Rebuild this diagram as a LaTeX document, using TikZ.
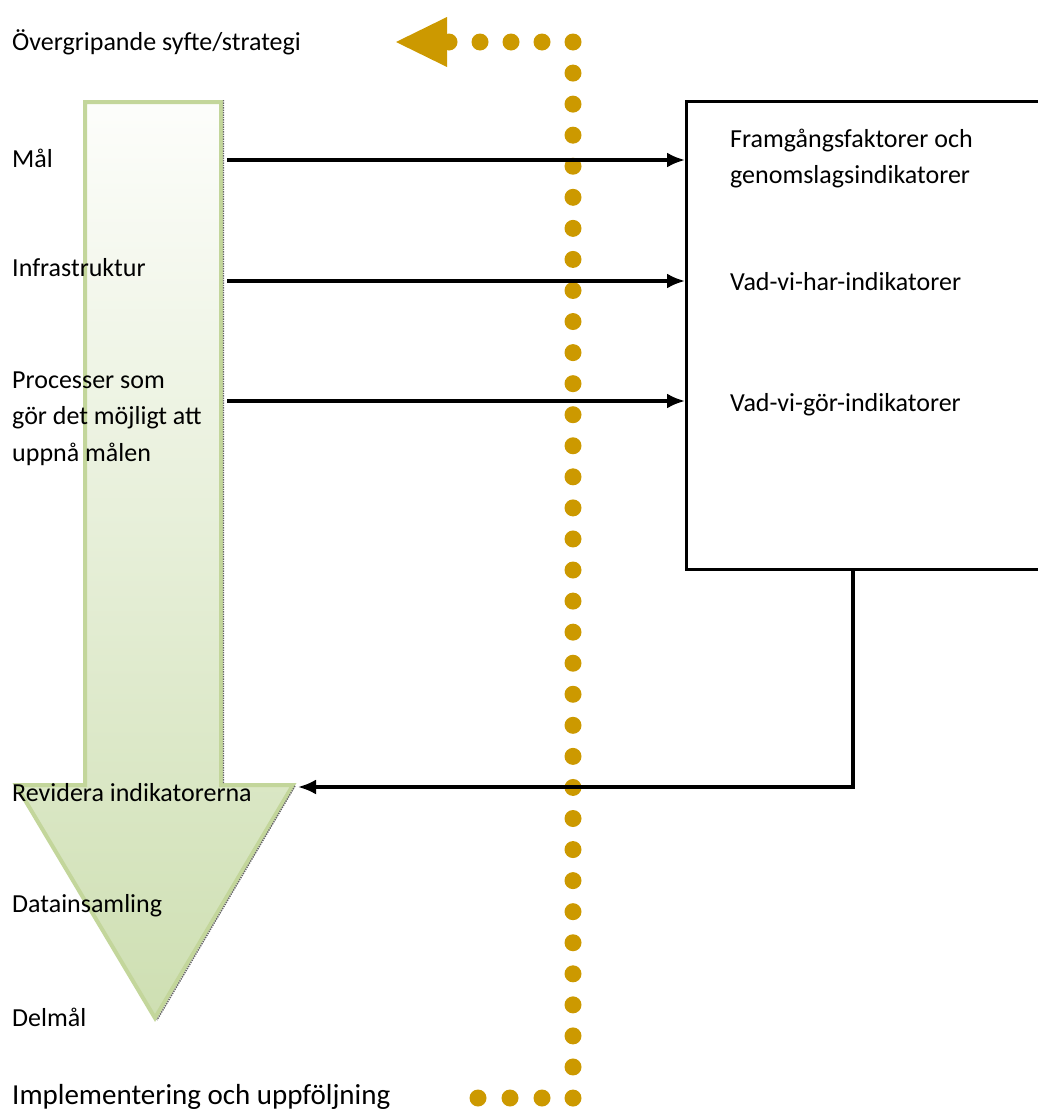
\documentclass[tikz,border=0pt]{standalone}
\usepackage{fontspec}
\setmainfont{Carlito}
\usetikzlibrary{arrows.meta,positioning}
\definecolor{gold}{RGB}{204,153,0}
\definecolor{leaf}{RGB}{195,214,155}
\definecolor{leaflight}{RGB}{206,223,178}
\begin{document}
\begin{tikzpicture}[x=1pt,y=-1pt,
        every node/.style={inner sep=0pt, align=left, text=black, font=\fontsize{26}{36.5}\selectfont},
        lbl/.style={anchor=west},
        dot/.style={fill=gold},
        arr/.style={line width=3.2pt, -{Latex[length=18pt,width=15pt]}}]
        \useasboundingbox (0,0) rectangle (1037,1111);

        % big green arrow
        \path[draw=leaf, line width=4pt, line join=miter, top color=leaf!4, bottom color=leaflight]
            (85,102) -- (221,102) -- (221,785) -- (293,785) -- (155,1018) -- (16,785) -- (85,785) -- cycle;
        \draw[black!60, densely dotted, line width=1.4pt] (223.5,100) -- (223.5,783) (295,786) -- (157,1020);

        % dotted loop
        \foreach \i in {0,...,34}
            \fill[dot] (573,42+31.06*\i) circle[radius=8.5pt];
        \foreach \i in {1,...,4}
            \fill[dot] (573-31*\i,42) circle[radius=8.5pt];
        \foreach \i in {1,...,3}
            \fill[dot] (574-32*\i,1098) circle[radius=8.5pt];
        \fill[gold] (396,42) -- (447,17) -- (447,67) -- cycle;

        \node[draw, line width=3.4pt, minimum width=380pt, minimum height=468pt, anchor=north west] (ind) at (685,100) {};

        \node[lbl] (syfte) at (12,42) {Övergripande syfte/strategi};
        \node[lbl] (mal) at (12,158) {Mål};
        \node[lbl] (infra) at (12,268) {Infrastruktur};
        \node[lbl] (proc) at (12,418.5) {Processer som\\gör det möjligt att\\uppnå målen};
        \node[lbl] (rev) at (12,793) {Revidera indikatorerna};
        \node[lbl] (data) at (12,906) {Datainsamling};
        \node[lbl] (delmal) at (12,1017) {Delmål};
        \node[lbl, font=\fontsize{29}{35}\selectfont] (impl) at (12,1097) {Implementering och uppföljning};

        \node[lbl] (fg) at (730,158.5) {Framgångsfaktorer och\\genomslagsindikatorer};
        \node[lbl] (har) at (730,282) {Vad-vi-har-indikatorer};
        \node[lbl] (gor) at (730,405) {Vad-vi-gör-indikatorer};

        \coordinate (m1) at (227,160);
        \coordinate (m2) at (227,281);
        \coordinate (m3) at (227,401);
        \coordinate (fb) at (853,568);
        \coordinate (rv) at (298,787);

        \draw[arr] (m1) -- (m1 -| ind.west);
        \draw[arr] (m2) -- (m2 -| ind.west);
        \draw[arr] (m3) -- (m3 -| ind.west);
        \draw[arr] (fb) |- (rv);
\end{tikzpicture}
\end{document}
